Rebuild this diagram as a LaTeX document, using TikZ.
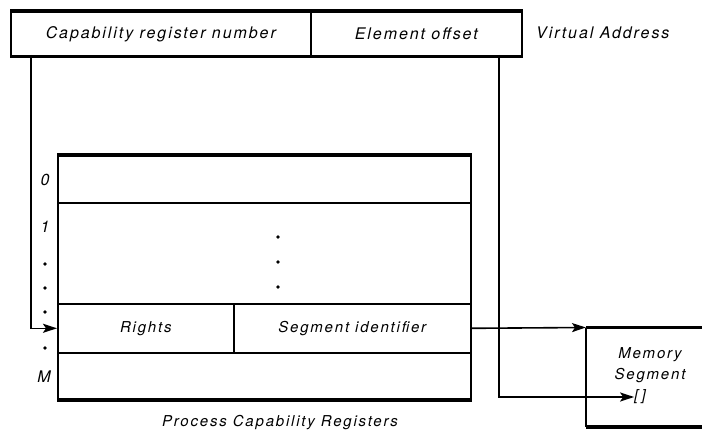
\documentclass[tikz,border=0pt]{standalone}
\usepackage{fontspec}
\newfontfamily\lblfont{TeX Gyre Heros}[LetterSpace=12]
\usetikzlibrary{arrows.meta}
\tikzset{
  lbl/.style={font=\lblfont\itshape\fontsize{15}{18}\selectfont, inner sep=0pt},
  biglbl/.style={font=\lblfont\itshape\fontsize{16}{19}\selectfont, inner sep=0pt},
  cell/.style={draw, line width=1.6pt, inner sep=0pt, anchor=north west, minimum height=#1},
  rule/.style={line width=3.8pt},
  conn/.style={line width=1.6pt, -{Stealth[length=14pt,width=9pt,inset=3pt]}},
  dot/.style={circle, fill, inner sep=0pt, minimum size=3.6pt}
}
\begin{document}
\begin{tikzpicture}[x=1pt,y=-1pt]
\useasboundingbox (0,0) rectangle (702,436);

% virtual address word
\node[cell=44, biglbl, minimum width=300] (crn) at (10,11) {Capability register number};
\node[cell=44, biglbl, minimum width=211] (eo) at (310,11) {Element offset};
\draw[rule] (crn.north west) -- (eo.north east);
\draw[rule] (crn.south west) -- (eo.south east);
\node[biglbl, anchor=west] (va) at (536,33) {Virtual Address};

% capability register file
\node[cell=47, lbl, minimum width=413] (r0) at (57,155) {};
\node[cell=101, lbl, minimum width=413] (r1) at (57,202) {};
\node[cell=49, lbl, minimum width=176] (rights) at (57,303) {Rights};
\node[cell=49, lbl, minimum width=237] (segid) at (233,303) {Segment identifier};
\node[cell=46, lbl, minimum width=413] (rM) at (57,352) {};
\draw[rule] (r0.north west) -- (r0.north east);
\draw[rule] (rM.south west) -- (rM.south east);
\node[lbl, anchor=east] (cap) at (398,423) {Process Capability Registers};

% ellipsis inside the register file
\node[dot] (d1) at (278,237) {};
\node[dot] (d2) at (278,262) {};
\node[dot] (d3) at (278,287) {};

% register indices
\node[biglbl] (i0) at (45,180) {0};
\node[biglbl] (i1) at (45,227) {1};
\node[dot] (e1) at (45,264) {};
\node[dot] (e2) at (45,288) {};
\node[dot] (e3) at (45,312) {};
\node[dot] (e4) at (45,348) {};
\node[biglbl] (iM) at (44,377) {M};

% memory segment
\node[anchor=north west, minimum width=116pt, minimum height=99pt, inner sep=0pt] (mem) at (586,327.5) {};
\draw[rule] (mem.north west) -- (mem.north east);
\draw[line width=1.6pt] (mem.north west) -- (mem.south west);
\draw[rule] (mem.south west) -- (mem.south east);
\node[lbl] (m1) at (650,355) {Memory};
\node[lbl] (m2) at (650,376) {Segment};
\node[lbl] (slot) at (640,397) {[\hspace{3pt}]};

% connectors
\coordinate (tapL) at (31,55);
\coordinate (tapR) at (499,55);
\draw[conn] (tapL) |- (rights.west);
\draw[conn] (segid.east) -- (mem.north west);
\draw[conn] (tapR) |- (slot.west);
\end{tikzpicture}
\end{document}
